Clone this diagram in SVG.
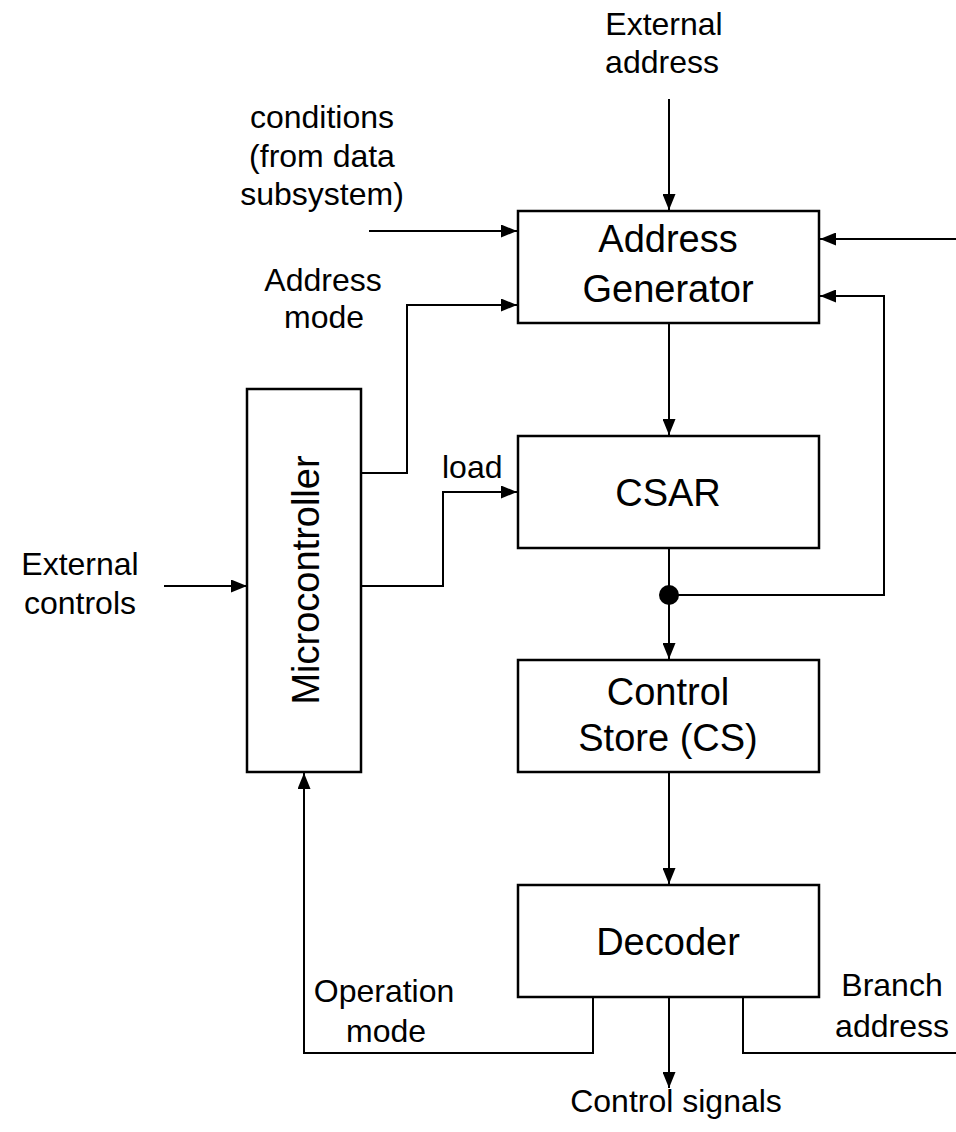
<svg xmlns="http://www.w3.org/2000/svg" width="956" height="1132" viewBox="0 0 956 1132">
  <style>
    .box { fill: #fff; stroke: #000; stroke-width: 2.5; }
    .wire { fill: none; stroke: #000; stroke-width: 2; }
    .arr { marker-end: url(#head); }
    text { font-family: "Liberation Sans", Arial, sans-serif; fill: #000; }
    .blk { font-size: 38px; text-anchor: middle; }
    .lbl { font-size: 32px; text-anchor: middle; }
  </style>
  <defs>
    <marker id="head" markerUnits="userSpaceOnUse" markerWidth="16" markerHeight="13" refX="16" refY="6.5" orient="auto">
      <path d="M0,0 L16,6.5 L0,13 z" fill="#000"/>
    </marker>
  </defs>
  <rect width="956" height="1132" fill="#fff"/>

  <!-- connectors -->
  <g id="connectors">
    <path class="wire arr" d="M669,99 V210"/>
    <path class="wire arr" d="M369,231 H517"/>
    <path class="wire arr" d="M956,239 H820"/>
    <path class="wire arr" d="M669,595 H884 V296 H820"/>
    <path class="wire arr" d="M361,473 H407 V305 H517"/>
    <path class="wire arr" d="M361,586 H443 V492 H517"/>
    <path class="wire arr" d="M164,586 H247"/>
    <path class="wire arr" d="M669,323 V435"/>
    <path class="wire arr" d="M669,548 V659"/>
    <path class="wire arr" d="M669,772 V884"/>
    <path class="wire arr" d="M669,997 V1088"/>
    <path class="wire arr" d="M593,997 V1053 H304 V773"/>
    <path class="wire" d="M743,997 V1053 H956"/>
    <circle cx="669" cy="595" r="10" fill="#000"/>
  </g>

  <!-- signal labels -->
  <g id="labels">
    <text class="lbl" x="664" y="35">External</text>
    <text class="lbl" x="662" y="73">address</text>
    <text class="lbl" x="322" y="128">conditions</text>
    <text class="lbl" x="322" y="167">(from data</text>
    <text class="lbl" x="322" y="205">subsystem)</text>
    <text class="lbl" x="323" y="291">Address</text>
    <text class="lbl" x="324" y="328">mode</text>
    <text class="lbl" x="442" y="478" style="text-anchor:start">load</text>
    <text class="lbl" x="80" y="575">External</text>
    <text class="lbl" x="80" y="614">controls</text>
    <text class="lbl" x="384" y="1002">Operation</text>
    <text class="lbl" x="386" y="1042">mode</text>
    <text class="lbl" x="892" y="996">Branch</text>
    <text class="lbl" x="892" y="1037">address</text>
    <text class="lbl" x="676" y="1112">Control signals</text>
  </g>

  <!-- blocks -->
  <g id="address-generator">
    <rect class="box" x="518" y="211" width="301" height="112"/>
    <text class="blk" x="668" y="252">Address</text>
    <text class="blk" x="668" y="302">Generator</text>
  </g>
  <g id="csar">
    <rect class="box" x="518" y="436" width="301" height="112"/>
    <text class="blk" x="668" y="506">CSAR</text>
  </g>
  <g id="control-store">
    <rect class="box" x="518" y="660" width="301" height="112"/>
    <text class="blk" x="668" y="705">Control</text>
    <text class="blk" x="668" y="751">Store (CS)</text>
  </g>
  <g id="decoder">
    <rect class="box" x="518" y="885" width="301" height="112"/>
    <text class="blk" x="668" y="955">Decoder</text>
  </g>
  <g id="microcontroller">
    <rect class="box" x="247" y="389" width="114" height="383"/>
    <text class="blk" transform="translate(319,580) rotate(-90)">Microcontroller</text>
  </g>
</svg>
